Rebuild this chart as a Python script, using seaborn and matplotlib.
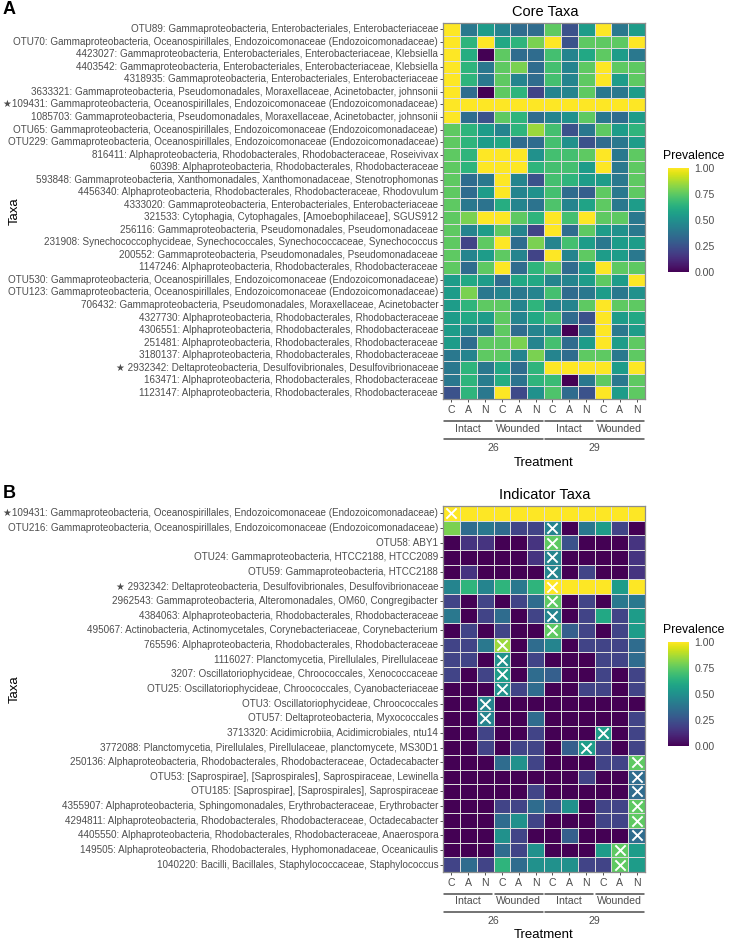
import numpy as np
import pandas as pd
import matplotlib
matplotlib.use("Agg")
import matplotlib.pyplot as plt
import matplotlib.transforms as mtransforms
from matplotlib.lines import Line2D
import seaborn as sns

sns.set_theme(style="white")
plt.rcParams['font.family'] = ['Liberation Sans', 'DejaVu Sans']

# ---------------- data ----------------
treatment = ['C', 'A', 'N'] * 4
wound_groups = ['Intact', 'Wounded', 'Intact', 'Wounded']
temp_groups = ['26', '29']

core_taxa = [
    "OTU89: Gammaproteobacteria, Enterobacteriales, Enterobacteriaceae",
    "OTU70: Gammaproteobacteria, Oceanospirillales, Endozoicomonaceae (Endozoicomonadaceae)",
    "4423027: Gammaproteobacteria, Enterobacteriales, Enterobacteriaceae, Klebsiella",
    "4403542: Gammaproteobacteria, Enterobacteriales, Enterobacteriaceae, Klebsiella",
    "4318935: Gammaproteobacteria, Enterobacteriales, Enterobacteriaceae",
    "3633321: Gammaproteobacteria, Pseudomonadales, Moraxellaceae, Acinetobacter, johnsonii",
    "★109431: Gammaproteobacteria, Oceanospirillales, Endozoicomonaceae (Endozoicomonadaceae)",
    "1085703: Gammaproteobacteria, Pseudomonadales, Moraxellaceae, Acinetobacter, johnsonii",
    "OTU65: Gammaproteobacteria, Oceanospirillales, Endozoicomonaceae (Endozoicomonadaceae)",
    "OTU229: Gammaproteobacteria, Oceanospirillales, Endozoicomonaceae (Endozoicomonadaceae)",
    "816411: Alphaproteobacteria, Rhodobacterales, Rhodobacteraceae, Roseivivax",
    "60398: Alphaproteobacteria, Rhodobacterales, Rhodobacteraceae",
    "593848: Gammaproteobacteria, Xanthomonadales, Xanthomonadaceae, Stenotrophomonas",
    "4456340: Alphaproteobacteria, Rhodobacterales, Rhodobacteraceae, Rhodovulum",
    "4333020: Gammaproteobacteria, Enterobacteriales, Enterobacteriaceae",
    "321533: Cytophagia, Cytophagales, [Amoebophilaceae], SGUS912",
    "256116: Gammaproteobacteria, Pseudomonadales, Pseudomonadaceae",
    "231908: Synechococcophycideae, Synechococcales, Synechococcaceae, Synechococcus",
    "200552: Gammaproteobacteria, Pseudomonadales, Pseudomonadaceae",
    "1147246: Alphaproteobacteria, Rhodobacterales, Rhodobacteraceae",
    "OTU530: Gammaproteobacteria, Oceanospirillales, Endozoicomonaceae (Endozoicomonadaceae)",
    "OTU123: Gammaproteobacteria, Oceanospirillales, Endozoicomonaceae (Endozoicomonadaceae)",
    "706432: Gammaproteobacteria, Pseudomonadales, Moraxellaceae, Acinetobacter",
    "4327730: Alphaproteobacteria, Rhodobacterales, Rhodobacteraceae",
    "4306551: Alphaproteobacteria, Rhodobacterales, Rhodobacteraceae",
    "251481: Alphaproteobacteria, Rhodobacterales, Rhodobacteraceae",
    "3180137: Alphaproteobacteria, Rhodobacterales, Rhodobacteraceae",
    "★ 2932342: Deltaproteobacteria, Desulfovibrionales, Desulfovibrionaceae",
    "163471: Alphaproteobacteria, Rhodobacterales, Rhodobacteraceae",
    "1123147: Alphaproteobacteria, Rhodobacterales, Rhodobacteraceae",
]

core_prevalence = [
    [1.00, 0.40, 0.55, 0.45, 0.35, 0.35, 0.75, 0.25, 0.55, 1.00, 0.40, 0.55],
    [1.00, 0.65, 1.00, 0.60, 0.65, 0.80, 1.00, 0.25, 0.75, 0.75, 0.75, 1.00],
    [1.00, 0.62, 0.00, 0.75, 0.35, 0.35, 0.70, 0.45, 0.60, 0.75, 0.55, 0.40],
    [1.00, 0.65, 0.40, 0.75, 0.80, 0.35, 0.70, 0.45, 0.75, 1.00, 0.75, 0.75],
    [1.00, 0.65, 0.40, 0.75, 0.45, 0.35, 0.70, 0.45, 0.75, 1.00, 0.55, 0.75],
    [1.00, 0.35, 0.00, 0.75, 0.65, 0.20, 0.45, 0.45, 0.75, 0.40, 0.40, 0.55],
    [1.00, 1.00, 1.00, 1.00, 1.00, 1.00, 1.00, 1.00, 1.00, 1.00, 1.00, 1.00],
    [1.00, 0.35, 0.25, 0.75, 0.65, 0.35, 0.45, 0.50, 0.75, 0.40, 0.35, 0.55],
    [0.75, 0.65, 0.55, 0.45, 0.65, 0.85, 0.70, 0.25, 0.40, 0.75, 0.55, 0.65],
    [0.75, 0.65, 0.55, 0.60, 0.35, 0.35, 0.70, 0.50, 0.25, 0.35, 0.40, 0.55],
    [0.75, 0.65, 1.00, 1.00, 1.00, 0.50, 0.70, 0.70, 0.75, 1.00, 0.40, 0.75],
    [0.75, 0.65, 1.00, 1.00, 1.00, 0.65, 0.70, 0.70, 0.55, 1.00, 0.40, 0.75],
    [0.75, 0.35, 0.40, 1.00, 0.45, 0.25, 0.70, 0.65, 0.55, 0.55, 0.40, 0.75],
    [0.75, 0.35, 0.55, 1.00, 0.45, 0.50, 0.70, 0.35, 0.30, 0.75, 0.40, 0.75],
    [0.75, 0.40, 0.38, 0.62, 0.45, 0.38, 0.72, 0.45, 0.58, 0.75, 0.40, 0.55],
    [0.75, 0.80, 1.00, 1.00, 0.75, 0.65, 1.00, 0.70, 1.00, 0.75, 0.75, 0.40],
    [0.75, 0.45, 0.55, 0.75, 0.45, 0.20, 1.00, 0.35, 0.75, 0.55, 0.50, 0.40],
    [0.75, 0.20, 0.75, 1.00, 0.35, 0.80, 0.45, 0.70, 0.55, 0.40, 0.55, 0.55],
    [0.75, 0.45, 0.55, 0.75, 0.45, 0.20, 1.00, 0.45, 0.75, 0.55, 0.55, 0.40],
    [0.75, 0.35, 0.75, 1.00, 0.35, 0.65, 0.75, 0.35, 0.55, 1.00, 0.75, 0.75],
    [0.55, 0.60, 0.55, 0.35, 0.60, 0.60, 0.45, 0.45, 0.55, 0.75, 0.55, 1.00],
    [0.55, 0.80, 0.40, 0.45, 0.40, 0.45, 0.70, 0.35, 0.40, 0.55, 0.40, 0.50],
    [0.55, 0.65, 0.75, 0.75, 0.45, 0.65, 0.45, 0.45, 0.75, 1.00, 0.75, 0.75],
    [0.55, 0.60, 0.55, 0.75, 0.45, 0.60, 0.70, 0.35, 0.25, 1.00, 0.55, 0.60],
    [0.55, 0.45, 0.40, 0.75, 0.35, 0.45, 0.45, 0.00, 0.35, 1.00, 0.40, 0.55],
    [0.55, 0.35, 0.75, 0.75, 0.80, 0.45, 0.70, 0.35, 0.55, 1.00, 0.55, 0.75],
    [0.40, 0.45, 0.75, 0.75, 0.45, 0.80, 0.45, 0.35, 0.75, 0.75, 0.40, 0.75],
    [0.40, 0.65, 0.40, 0.60, 0.35, 0.65, 1.00, 1.00, 1.00, 1.00, 0.55, 1.00],
    [0.40, 0.65, 0.42, 0.62, 0.38, 0.65, 0.68, 0.00, 0.40, 0.75, 0.40, 0.75],
    [0.25, 0.65, 0.40, 1.00, 0.22, 0.50, 0.72, 0.35, 0.25, 1.00, 0.55, 0.75],
]

indicator_taxa = [
    "★109431: Gammaproteobacteria, Oceanospirillales, Endozoicomonaceae (Endozoicomonadaceae)",
    "OTU216: Gammaproteobacteria, Oceanospirillales, Endozoicomonaceae (Endozoicomonadaceae)",
    "OTU58: ABY1",
    "OTU24: Gammaproteobacteria, HTCC2188, HTCC2089",
    "OTU59: Gammaproteobacteria, HTCC2188",
    "★ 2932342: Deltaproteobacteria, Desulfovibrionales, Desulfovibrionaceae",
    "2962543: Gammaproteobacteria, Alteromonadales, OM60, Congregibacter",
    "4384063: Alphaproteobacteria, Rhodobacterales, Rhodobacteraceae",
    "495067: Actinobacteria, Actinomycetales, Corynebacteriaceae, Corynebacterium",
    "765596: Alphaproteobacteria, Rhodobacterales, Rhodobacteraceae",
    "1116027: Planctomycetia, Pirellulales, Pirellulaceae",
    "3207: Oscillatoriophycideae, Chroococcales, Xenococcaceae",
    "OTU25: Oscillatoriophycideae, Chroococcales, Cyanobacteriaceae",
    "OTU3: Oscillatoriophycideae, Chroococcales",
    "OTU57: Deltaproteobacteria, Myxococcales",
    "3713320: Acidimicrobiia, Acidimicrobiales, ntu14",
    "3772088: Planctomycetia, Pirellulales, Pirellulaceae, planctomycete, MS30D1",
    "250136: Alphaproteobacteria, Rhodobacterales, Rhodobacteraceae, Octadecabacter",
    "OTU53: [Saprospirae], [Saprospirales], Saprospiraceae, Lewinella",
    "OTU185: [Saprospirae], [Saprospirales], Saprospiraceae",
    "4355907: Alphaproteobacteria, Sphingomonadales, Erythrobacteraceae, Erythrobacter",
    "4294811: Alphaproteobacteria, Rhodobacterales, Rhodobacteraceae, Octadecabacter",
    "4405550: Alphaproteobacteria, Rhodobacterales, Rhodobacteraceae, Anaerospora",
    "149505: Alphaproteobacteria, Rhodobacterales, Hyphomonadaceae, Oceanicaulis",
    "1040220: Bacilli, Bacillales, Staphylococcaceae, Staphylococcus",
]

indicator_prevalence = [
    [1.00, 1.00, 1.00, 1.00, 1.00, 1.00, 1.00, 1.00, 1.00, 1.00, 1.00, 1.00],
    [0.80, 0.35, 0.40, 0.35, 0.20, 0.20, 0.45, 0.00, 0.40, 0.55, 0.20, 0.00],
    [0.00, 0.15, 0.15, 0.00, 0.00, 0.15, 0.75, 0.25, 0.00, 0.00, 0.00, 0.15],
    [0.00, 0.00, 0.00, 0.00, 0.00, 0.15, 0.45, 0.00, 0.00, 0.00, 0.00, 0.15],
    [0.00, 0.15, 0.00, 0.00, 0.00, 0.00, 0.45, 0.00, 0.20, 0.00, 0.00, 0.15],
    [0.45, 0.65, 0.45, 0.65, 0.40, 0.65, 1.00, 1.00, 1.00, 1.00, 0.55, 1.00],
    [0.20, 0.00, 0.20, 0.00, 0.20, 0.35, 0.75, 0.00, 0.20, 0.00, 0.40, 0.40],
    [0.40, 0.00, 0.20, 0.35, 0.00, 0.20, 0.45, 0.00, 0.20, 0.60, 0.20, 0.55],
    [0.00, 0.20, 0.00, 0.20, 0.00, 0.00, 0.75, 0.30, 0.20, 0.00, 0.20, 0.55],
    [0.20, 0.20, 0.40, 0.85, 0.00, 0.35, 0.45, 0.00, 0.20, 0.20, 0.20, 0.35],
    [0.20, 0.20, 0.00, 0.50, 0.00, 0.20, 0.00, 0.00, 0.00, 0.20, 0.20, 0.35],
    [0.20, 0.00, 0.20, 0.55, 0.00, 0.35, 0.30, 0.00, 0.00, 0.20, 0.00, 0.20],
    [0.00, 0.00, 0.00, 0.50, 0.20, 0.35, 0.00, 0.00, 0.20, 0.20, 0.00, 0.20],
    [0.00, 0.00, 0.45, 0.00, 0.00, 0.00, 0.00, 0.00, 0.00, 0.00, 0.00, 0.00],
    [0.00, 0.00, 0.45, 0.00, 0.00, 0.35, 0.00, 0.00, 0.00, 0.00, 0.00, 0.20],
    [0.00, 0.00, 0.20, 0.00, 0.00, 0.20, 0.00, 0.00, 0.00, 0.55, 0.00, 0.20],
    [0.00, 0.00, 0.20, 0.00, 0.20, 0.20, 0.00, 0.30, 0.55, 0.20, 0.00, 0.20],
    [0.00, 0.00, 0.00, 0.35, 0.50, 0.20, 0.00, 0.00, 0.00, 0.20, 0.20, 0.75],
    [0.00, 0.00, 0.00, 0.00, 0.00, 0.00, 0.00, 0.00, 0.20, 0.00, 0.00, 0.35],
    [0.00, 0.00, 0.00, 0.00, 0.00, 0.20, 0.00, 0.00, 0.00, 0.00, 0.00, 0.35],
    [0.00, 0.00, 0.00, 0.20, 0.20, 0.35, 0.25, 0.50, 0.00, 0.20, 0.20, 0.75],
    [0.00, 0.00, 0.00, 0.35, 0.50, 0.20, 0.00, 0.00, 0.00, 0.20, 0.20, 0.75],
    [0.00, 0.00, 0.00, 0.50, 0.20, 0.00, 0.00, 0.30, 0.00, 0.00, 0.00, 0.35],
    [0.00, 0.00, 0.00, 0.35, 0.20, 0.50, 0.00, 0.00, 0.00, 0.55, 0.75, 0.55],
    [0.20, 0.35, 0.20, 0.65, 0.35, 0.50, 0.50, 0.50, 0.20, 0.20, 0.75, 0.55],
]

# column (treatment) in which each indicator taxon is indicative (marked with ×)
indicator_column = [0, 6, 6, 6, 6, 6, 6, 6, 6, 3, 3, 3, 3, 2, 2, 9, 8, 11, 11, 11, 11, 11, 11, 10, 10]

# ---------------- layout helpers ----------------
W, H = 729, 943
fig = plt.figure(figsize=(W / 100, H / 100), dpi=100)
fig.patch.set_facecolor('white')

GREY = '#4d4d4d'
TXT = 'black'


def frect(x0, y0, x1, y1):
    return [x0 / W, 1 - y1 / H, (x1 - x0) / W, (y1 - y0) / H]


def draw_panel(values, labels, title, letter, top, bottom, cbar_top, marks=None):
    df = pd.DataFrame(values, index=labels, columns=range(len(treatment)))
    ax = fig.add_axes(frect(443, top, 645, bottom))
    cax = fig.add_axes(frect(668, cbar_top, 689, cbar_top + 104))
    sns.heatmap(df, ax=ax, cmap='viridis', vmin=0, vmax=1,
                linewidths=0.5, linecolor='#dcdcdc',
                cbar_ax=cax, xticklabels=treatment, yticklabels=labels,
                cbar_kws={'ticks': [0, 0.25, 0.5, 0.75, 1.0]})
    if marks is not None:
        ax.scatter(np.array(marks) + 0.5, np.arange(len(marks)) + 0.5,
                   marker='x', s=55, c='white', linewidths=1.4, zorder=5)
    for sp in ax.spines.values():
        sp.set_visible(True)
        sp.set_color('#8c8c8c')
        sp.set_linewidth(0.9)
    ax.tick_params(axis='y', length=2.5, width=0.6, color='#333333',
                   labelsize=7.1, labelcolor=GREY, pad=1, left=True, rotation=0)
    ax.tick_params(axis='x', length=2.5, width=0.6, color='#333333',
                   labelsize=7.6, labelcolor=GREY, pad=1.5, bottom=True, rotation=0)
    ax.set_xlabel('')
    ax.set_ylabel('')
    for t in ax.get_yticklabels():
        if t.get_text().startswith('★'):
            pass
    # hierarchical x labels
    axh = bottom - top
    tr = mtransforms.blended_transform_factory(ax.transData, ax.transAxes)

    def yoff(px):
        return -px / axh

    for i, g in enumerate(wound_groups):
        x0, x1 = 3 * i + 0.07, 3 * i + 2.93
        ax.add_artist(Line2D([x0, x1], [yoff(22), yoff(22)], transform=tr,
                             color=GREY, lw=1.1, clip_on=False))
        ax.text(3 * i + 1.5, yoff(29.5), g, transform=tr, ha='center', va='center',
                fontsize=7.6, color=GREY)
    for i, g in enumerate(temp_groups):
        x0, x1 = 6 * i + 0.07, 6 * i + 5.93
        ax.add_artist(Line2D([x0, x1], [yoff(40), yoff(40)], transform=tr,
                             color=GREY, lw=1.1, clip_on=False))
        ax.text(6 * i + 3, yoff(49), g, transform=tr, ha='center', va='center',
                fontsize=7.6, color=GREY)
    ax.text(6, yoff(63.5), 'Treatment', transform=tr, ha='center', va='center',
            fontsize=9.5, color=TXT)
    # titles
    fig.text(545 / W, 1 - (top - 11) / H, title, ha='center', va='center',
             fontsize=10.5, color=TXT)
    fig.text(3 / W, 1 - (top - 13) / H, letter, ha='left', va='center',
             fontsize=13, fontweight='bold', color=TXT)
    fig.text(15 / W, 1 - ((top + bottom) / 2) / H, 'Taxa', ha='center', va='center',
             rotation=90, fontsize=9.5, color=TXT)
    # colorbar styling
    cax.tick_params(axis='y', right=True, left=True, direction='in', length=3.5,
                    width=0.7, color='white', labelsize=7.6, labelcolor=GREY, pad=4)
    cax.set_yticklabels(['0.00', '0.25', '0.50', '0.75', '1.00'])
    for sp in cax.spines.values():
        sp.set_visible(False)
    fig.text(663 / W, 1 - (cbar_top - 12) / H, 'Prevalence', ha='left', va='center',
             fontsize=8.8, color=TXT)
    return ax


axA = draw_panel(core_prevalence, core_taxa, 'Core Taxa', 'A', 23, 399, 168)
axB = draw_panel(indicator_prevalence, indicator_taxa, 'Indicator Taxa', 'B', 506, 872, 642,
                 marks=indicator_column)

# underline part of one label (as in the original)
fig.canvas.draw()
renderer = fig.canvas.get_renderer()
for t in axA.get_yticklabels():
    if t.get_text().startswith('60398'):
        bb = t.get_window_extent(renderer)
        tmp = fig.text(0, 0, '60398: Alphaproteobacte', fontsize=t.get_fontsize(),
                       fontfamily=t.get_fontfamily())
        wpx = tmp.get_window_extent(renderer).width
        tmp.remove()
        y = bb.y0 + 0.5
        fig.add_artist(Line2D([bb.x0 / W, (bb.x0 + wpx) / W], [y / H, y / H],
                              transform=fig.transFigure, color=GREY, lw=0.6))

fig.savefig('out.png', dpi=100)
